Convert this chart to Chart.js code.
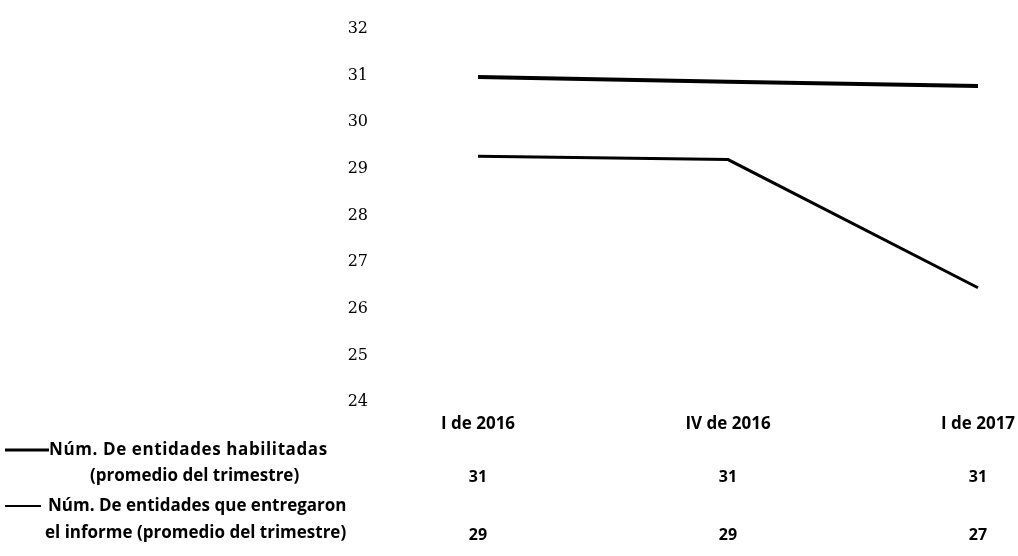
<!DOCTYPE html>
<html lang="es">
<head>
<meta charset="UTF-8">
<title>Entidades habilitadas</title>
<script src="https://cdn.jsdelivr.net/npm/chart.js"></script>
<style>
  html, body { margin: 0; padding: 0; background: #fff; }
  #wrap { width: 1018px; height: 556px; position: relative; }
</style>
</head>
<body>
<div id="wrap"><canvas id="chart" width="1018" height="556"></canvas></div>
<script>
// datos
const trimestres = ['I de 2016', 'IV de 2016', 'I de 2017'];
const habilitadas = [30.97, 30.87, 30.78];
const entregaron = [29.27, 29.2, 26.45];
const tablaHabilitadas = [31, 31, 31];
const tablaEntregaron = [29, 29, 27];
const nombreHabilitadas = ['Núm. De entidades habilitadas', '(promedio del trimestre)'];
const nombreEntregaron = ['Núm. De entidades que entregaron', 'el informe (promedio del trimestre)'];
const yMin = 24, yMax = 32;

const boldFont = '"Open Sans", "Lato", sans-serif';

// tabla de datos debajo del eje (como en Excel)
const dataTable = {
  id: 'dataTable',
  afterDraw(chart) {
    const c = chart.ctx;
    const x = chart.scales.x;
    c.save();
    c.fillStyle = '#000';
    c.textBaseline = 'middle';
    c.font = 'bold 16px ' + boldFont;

    // valores
    c.textAlign = 'center';
    trimestres.forEach((t, i) => {
      const px = x.getPixelForValue(i);
      c.fillText(String(tablaHabilitadas[i]), px, 477);
      c.fillText(String(tablaEntregaron[i]), px, 535);
    });

    // leyenda a la izquierda
    c.strokeStyle = '#000';
    c.lineWidth = 3;
    c.beginPath(); c.moveTo(5, 450); c.lineTo(49, 450); c.stroke();
    c.lineWidth = 2;
    c.beginPath(); c.moveTo(5, 506); c.lineTo(41, 506); c.stroke();

    c.textAlign = 'left';
    c.font = 'bold 17px ' + boldFont;
    c.letterSpacing = '0.6px';
    c.fillText(nombreHabilitadas[0], 49, 450);
    c.letterSpacing = '0px';
    c.fillText(nombreHabilitadas[1], 90, 476);
    c.fillText(nombreEntregaron[0], 48, 506);
    c.fillText(nombreEntregaron[1], 45, 533);
    c.restore();
  }
};

new Chart(document.getElementById('chart'), {
  type: 'line',
  data: {
    labels: trimestres,
    datasets: [
      {
        label: nombreHabilitadas.join(' '),
        data: habilitadas,
        borderColor: '#000',
        borderWidth: 4,
        pointRadius: 0,
        tension: 0
      },
      {
        label: nombreEntregaron.join(' '),
        data: entregaron,
        borderColor: '#000',
        borderWidth: 3,
        pointRadius: 0,
        tension: 0
      }
    ]
  },
  options: {
    responsive: false,
    animation: false,
    layout: { padding: { left: 0, right: 40, top: 29, bottom: 114 } },
    plugins: { legend: { display: false }, tooltip: { enabled: false } },
    scales: {
      x: {
        offset: false,
        grid: { display: false },
        border: { display: false },
        ticks: {
          color: '#000',
          padding: 4,
          maxRotation: 0,
          font: { family: boldFont, size: 17, weight: 'bold' }
        },
        afterFit(s) {
          s.height = 40;
          s.paddingLeft = 0;
          s.paddingRight = 0;
        }
      },
      y: {
        min: yMin,
        max: yMax,
        grid: { display: false },
        border: { display: false },
        ticks: {
          stepSize: 1,
          color: '#000',
          padding: 102,
          font: { family: '"DejaVu Serif", serif', size: 16 }
        },
        afterFit(s) {
          s.width = 478;
          s.paddingTop = 0;
          s.paddingBottom = 0;
        }
      }
    }
  },
  plugins: [dataTable]
});
</script>
</body>
</html>
